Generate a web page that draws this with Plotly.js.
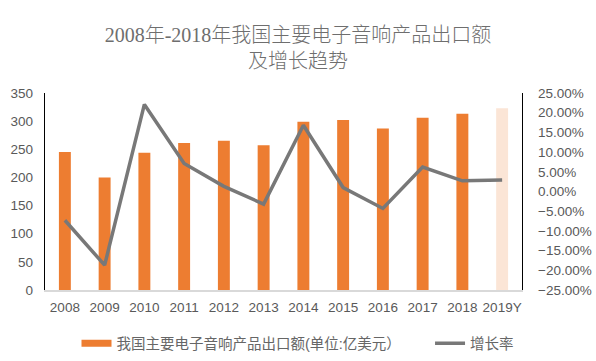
<!DOCTYPE html>
<html>
<head>
<meta charset="utf-8">
<script src="https://cdn.plot.ly/plotly-3.0.1.min.js"></script>
<style>html,body{margin:0;padding:0;background:#fff;}#chart{width:596px;height:361px;}</style>
</head>
<body>
<div id="chart"></div>
<script>
const years = ['2008','2009','2010','2011','2012','2013','2014','2015','2016','2017','2018','2019Y'];
const exportValues = [245, 200, 244, 261, 265, 257, 299, 302, 287, 306, 313, 323];
const growthRates = [-0.073, -0.187, 0.221, 0.071, 0.013, -0.032, 0.168, 0.010, -0.043, 0.062, 0.027, 0.029];
const barColors = years.map(y => y === '2019Y' ? '#FBE5D6' : '#ED7D31');
const barName = '我国主要电子音响产品出口额(单位:亿美元）';
const lineName = '增长率';

const cjk = '"Liberation Sans", "Noto Sans CJK SC", sans-serif';
const grey = '#595959';
const pad = '\u00a0'.repeat(6);

const traces = [
  {
    type: 'bar', x: years, y: exportValues, name: barName, showlegend: false,
    marker: {color: barColors}, yaxis: 'y'
  },
  {
    // legend entry for the bars, drawn as a wide orange swatch
    type: 'scatter', mode: 'lines', x: [null], y: [null], name: barName + pad,
    line: {color: '#ED7D31', width: 7}, yaxis: 'y'
  },
  {
    type: 'scatter', mode: 'lines', x: years, y: growthRates, name: lineName,
    line: {color: '#787878', width: 3.5}, yaxis: 'y2'
  }
];

const tickFont = {family: cjk, size: 13.5, color: grey};

const layout = {
  width: 596, height: 361,
  margin: {l: 45, r: 74, t: 93, b: 71, autoexpand: false},
  paper_bgcolor: '#fff', plot_bgcolor: '#fff',
  title: {
    text: '2008年-2018年我国主要电子音响产品出口额<br>及增长趋势',
    font: {family: '"Liberation Serif", "Noto Sans CJK SC", serif', size: 20, color: '#6e6e6e', weight: 300},
    x: 0.5, xanchor: 'center', xref: 'container', yref: 'container', y: 0.885, yanchor: 'top'
  },
  bargap: 0.7,
  showlegend: true,
  legend: {
    orientation: 'h', x: 0.5, xanchor: 'center', xref: 'container', y: -0.19, yanchor: 'top',
    font: {family: cjk, size: 14.5, color: '#666'}, traceorder: 'normal'
  },
  xaxis: {
    type: 'category', showgrid: false, zeroline: false,
    showline: true, linecolor: '#D9D9D9', linewidth: 1.5,
    ticks: '', ticklabelstandoff: 4, tickfont: tickFont
  },
  yaxis: {
    range: [0, 350], dtick: 50, showgrid: false, zeroline: false,
    showline: true, linecolor: '#000', linewidth: 1.3, ticks: '',
    ticklabelstandoff: 8, tickfont: tickFont
  },
  yaxis2: {
    overlaying: 'y', side: 'right', range: [-0.25, 0.25], dtick: 0.05,
    tickformat: '.2%', showgrid: false, zeroline: false,
    showline: true, linecolor: '#000', linewidth: 1.3, ticks: '',
    ticklabelstandoff: 12, tickfont: tickFont
  }
};

Plotly.newPlot('chart', traces, layout, {displayModeBar: false, staticPlot: true});
</script>
</body>
</html>
